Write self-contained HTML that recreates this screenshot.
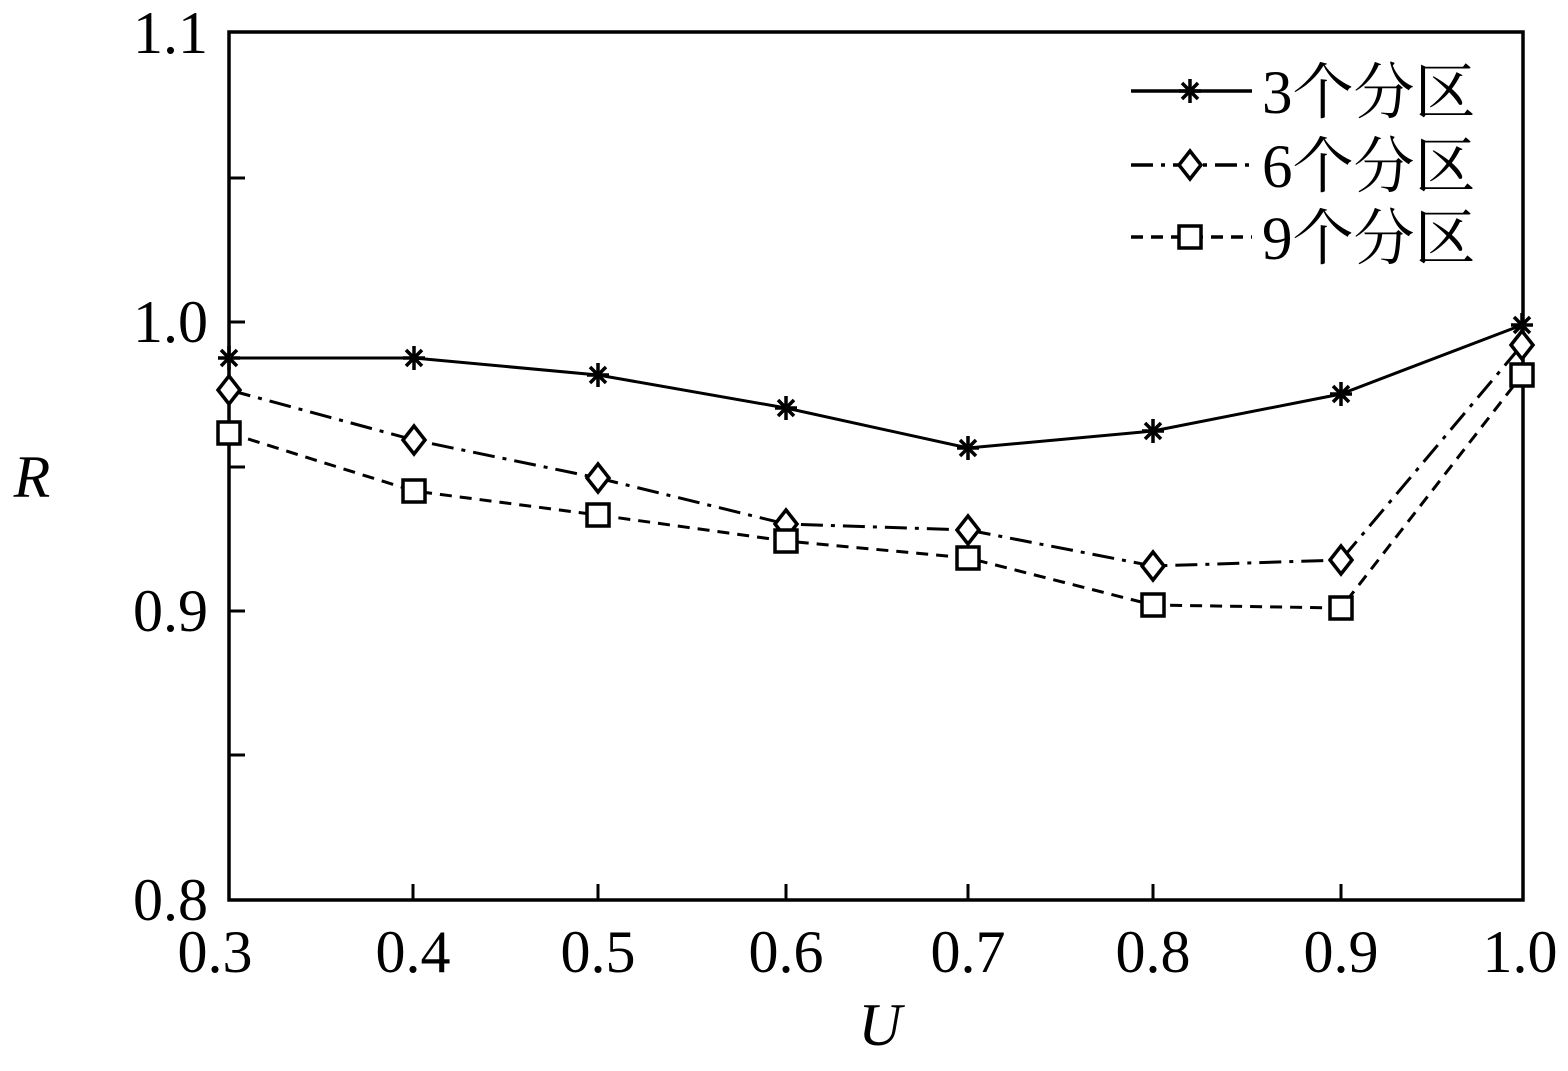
<!DOCTYPE html>
<html><head><meta charset="utf-8"><style>html,body{margin:0;padding:0;background:#fff}</style></head>
<body>
<svg width="1568" height="1066" viewBox="0 0 1568 1066" xmlns="http://www.w3.org/2000/svg" font-family="'Liberation Serif','Noto Serif CJK SC',serif">
<defs>
<g id="star" stroke="#000" stroke-width="3.5"><line x1="-11" y1="0" x2="11" y2="0"/><line x1="0" y1="-12" x2="0" y2="12"/><line x1="-8" y1="-8" x2="8" y2="8"/><line x1="-8" y1="8" x2="8" y2="-8"/></g>
<g id="dia"><polygon points="0,-14 11,0 0,14 -11,0" fill="#fff" stroke="#000" stroke-width="3.5"/></g>
<g id="sq"><rect x="-11" y="-11" width="22" height="22" fill="#fff" stroke="#000" stroke-width="3.5"/></g>
</defs>
<rect x="229" y="32" width="1294" height="868" fill="none" stroke="#000" stroke-width="3.5"/>
<g stroke="#000" stroke-width="3">
<line x1="413" y1="900" x2="413" y2="884"/><line x1="598" y1="900" x2="598" y2="884"/><line x1="786" y1="900" x2="786" y2="884"/><line x1="968" y1="900" x2="968" y2="884"/><line x1="1153" y1="900" x2="1153" y2="884"/><line x1="1341" y1="900" x2="1341" y2="884"/>
<line x1="229" y1="178" x2="245" y2="178"/><line x1="229" y1="322" x2="245" y2="322"/><line x1="229" y1="467" x2="245" y2="467"/><line x1="229" y1="611" x2="245" y2="611"/><line x1="229" y1="755" x2="245" y2="755"/>
</g>
<g font-size="60" text-anchor="end">
<text x="208" y="53">1.1</text><text x="208" y="342">1.0</text><text x="208" y="631">0.9</text><text x="208" y="920">0.8</text>
</g>
<g font-size="60" text-anchor="middle">
<text x="215" y="972">0.3</text><text x="413" y="972">0.4</text><text x="598" y="972">0.5</text><text x="786" y="972">0.6</text><text x="968" y="972">0.7</text><text x="1153" y="972">0.8</text><text x="1341" y="972">0.9</text><text x="1520" y="972">1.0</text>
</g>
<text x="880" y="1045" font-size="60" font-style="italic" text-anchor="middle">U</text>
<text x="32" y="497" font-size="60" font-style="italic" text-anchor="middle">R</text>
<g fill="none" stroke="#000" stroke-width="3">
<polyline points="229,358 414,358 598,375 786,408 968,448 1153,431 1341,394 1522,325"/>
<polyline stroke-dasharray="22,8,4,8" points="229,390 414,440 598,478 786,524 968,530 1153,566 1341,560 1522,345"/>
<polyline stroke-dasharray="12,8" points="229,433 414,491 598,515 786,541 968,558 1153,605 1341,608 1522,375"/>
</g>
<g>
<use href="#star" x="229" y="358"/><use href="#star" x="414" y="358"/><use href="#star" x="598" y="375"/><use href="#star" x="786" y="408"/><use href="#star" x="968" y="448"/><use href="#star" x="1153" y="431"/><use href="#star" x="1341" y="394"/><use href="#star" x="1522" y="325"/>
<use href="#dia" x="229" y="390"/><use href="#dia" x="414" y="440"/><use href="#dia" x="598" y="478"/><use href="#dia" x="786" y="524"/><use href="#dia" x="968" y="530"/><use href="#dia" x="1153" y="566"/><use href="#dia" x="1341" y="560"/><use href="#dia" x="1522" y="345"/>
<use href="#sq" x="229" y="433"/><use href="#sq" x="414" y="491"/><use href="#sq" x="598" y="515"/><use href="#sq" x="786" y="541"/><use href="#sq" x="968" y="558"/><use href="#sq" x="1153" y="605"/><use href="#sq" x="1341" y="608"/><use href="#sq" x="1522" y="375"/>
</g>
<g stroke="#000" stroke-width="3.5" fill="none">
<line x1="1131" y1="91" x2="1252" y2="91"/>
<line x1="1131" y1="165" x2="1252" y2="165" stroke-dasharray="22,8,4,8"/>
<line x1="1131" y1="237" x2="1252" y2="237" stroke-dasharray="12,8"/>
</g>
<use href="#star" x="1190" y="91"/><use href="#dia" x="1190" y="165"/><use href="#sq" x="1190" y="237"/>
<g font-size="61">
<text x="1262" y="113">3个分区</text><text x="1262" y="187">6个分区</text><text x="1262" y="259">9个分区</text>
</g>
</svg>
</body></html>
